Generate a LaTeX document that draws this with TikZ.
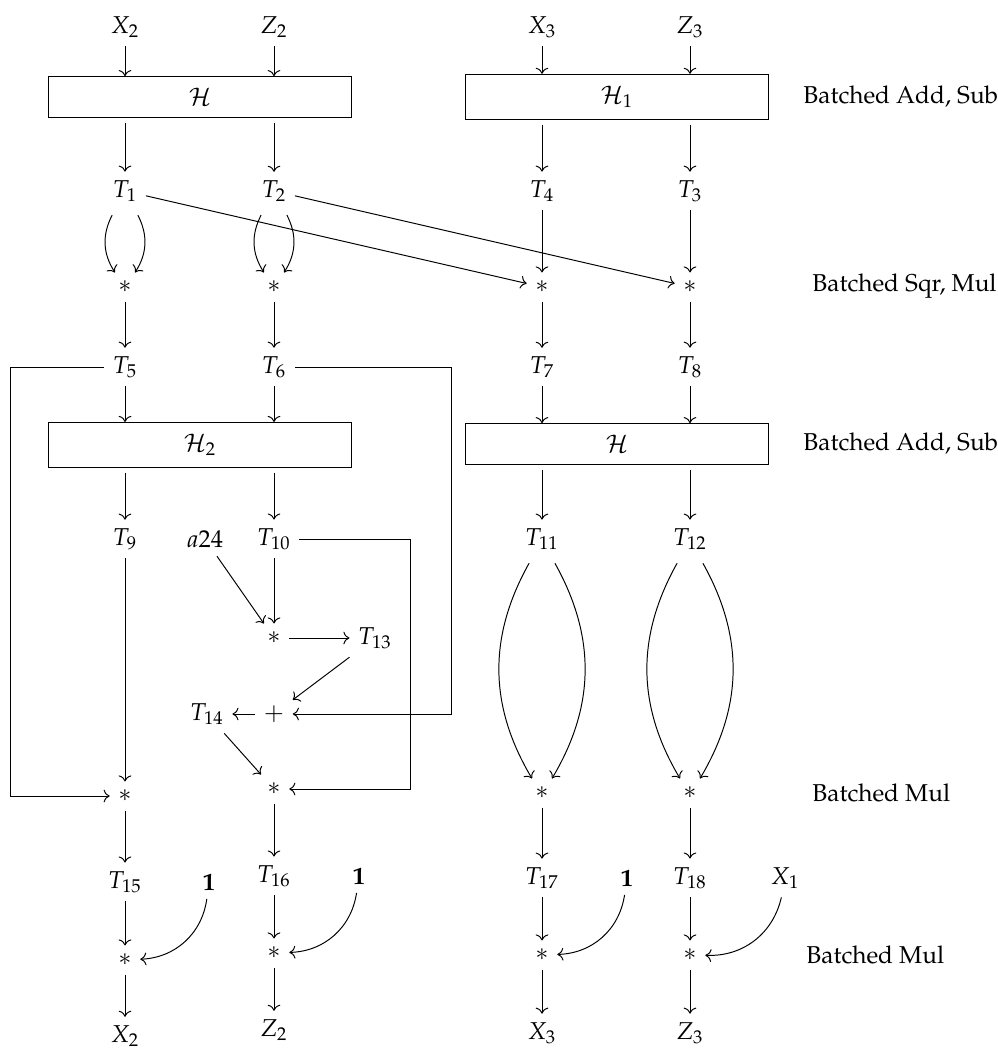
\documentclass[tikz,border=0pt]{standalone}
\usepackage[T1]{fontenc}
\usepackage{mathpazo}
\usepackage{amsmath,amssymb}
\usepackage{tikz}
\usetikzlibrary{arrows.meta, positioning}

\begin{document}
\begin{tikzpicture}[x=0.41pt, y=-0.41pt,
    arr/.style={->},
    opbox/.style={draw, minimum width=124pt, inner sep=4.8pt},
    lbl/.style={anchor=west, inner sep=0pt}]
    \useasboundingbox (0,0) rectangle (998,1055);
    % 输入
    \node (X2) at (125,27) {$X_2$};
    \node (Z2) at (274,27) {$Z_2$};
    \node (X3) at (542,27) {$X_3$};
    \node (Z3) at (690,27) {$Z_3$};
    \node [opbox] (H) at (200,97) {$\mathcal{H}$};
    \node [opbox] (H1) at (617,97) {$\mathcal{H}_1$};
    \node (T1) at (125,191) {$T_1$};
    \node (T2) at (274,191) {$T_2$};
    \node (T4) at (542,191) {$T_4$};
    \node (T3) at (690,191) {$T_3$};
    \node (s1) at (125,287) {$\ast$};
    \node (s2) at (274,287) {$\ast$};
    \node (s3) at (542,287) {$\ast$};
    \node (s4) at (690,287) {$\ast$};
    \node (T5) at (125,367) {$T_5$};
    \node (T6) at (274,367) {$T_6$};
    \node (T7) at (542,367) {$T_7$};
    \node (T8) at (690,367) {$T_8$};
    \node [opbox] (H2) at (200,445) {$\mathcal{H}_2$};
    \node [opbox] (H3) at (617,444) {$\mathcal{H}$};
    \node (T9) at (125,539) {$T_9$};
    \node (T10) at (274,539) {$T_{10}$};
    \node (T11) at (542,539) {$T_{11}$};
    \node (T12) at (690,539) {$T_{12}$};
    \node [on grid, left=28.3pt of T10] (a24) {$a24$};
    % 中间的乘加
    \node (m1) at (274,638) {$\ast$};
    \node [on grid, right=41.4pt of m1] (T13) {$T_{13}$};
    \node (plus) at (274,714) {$+$};
    \node [on grid, left=27.5pt of plus] (T14) {$T_{14}$};
    \node (m2) at (125,796) {$\ast$};
    \node (m3) at (274,789) {$\ast$};
    \node (m4) at (542,793) {$\ast$};
    \node (m5) at (690,793) {$\ast$};
    \node (T15) at (125,882) {$T_{15}$};
    \node (T16) at (274,876) {$T_{16}$};
    \node (T17) at (542,878) {$T_{17}$};
    \node (T18) at (690,878) {$T_{18}$};
    \node [on grid, right=34.4pt of T15] (one1) {$\mathbf{1}$};
    \node [on grid, right=34.8pt of T16] (one2) {$\mathbf{1}$};
    \node [on grid, right=34.8pt of T17] (one3) {$\mathbf{1}$};
    \node [on grid, right=39pt of T18] (X1) {$X_1$};
    \node (n1) at (125,960) {$\ast$};
    \node (n2) at (274,953) {$\ast$};
    \node (n3) at (542,955) {$\ast$};
    \node (n4) at (690,955) {$\ast$};
    % 输出
    \node (X2o) at (125,1036) {$X_2$};
    \node (Z2o) at (274,1030) {$Z_2$};
    \node (X3o) at (542,1033) {$X_3$};
    \node (Z3o) at (690,1033) {$Z_3$};
    % 右侧说明
    \node [lbl] (lab1) at (803,97) {Batched Add, Sub};
    \node [lbl] (lab2) at (812,286) {Batched Sqr, Mul};
    \node [lbl] (lab3) at (803,444) {Batched Add, Sub};
    \node [lbl] (lab4) at (812,793) {Batched Mul};
    \node [lbl] (lab5) at (806,955) {Batched Mul};
    % 回路拐点
    \coordinate (cL) at (10,367);
    \coordinate (cR) at (451,367);
    \coordinate (cT) at (410,539);

    \draw [arr] (X2) -- (X2 |- H.north);
    \draw [arr] (Z2) -- (Z2 |- H.north);
    \draw [arr] (X3) -- (X3 |- H1.north);
    \draw [arr] (Z3) -- (Z3 |- H1.north);
    \draw [arr, shorten <=2pt] (H.south -| T1) -- (T1);
    \draw [arr, shorten <=2pt] (H.south -| T2) -- (T2);
    \draw [arr, shorten <=2pt] (H1.south -| T4) -- (T4);
    \draw [arr, shorten <=2pt] (H1.south -| T3) -- (T3);
    % 平方: 两条弯箭头
    \draw [arr] ([xshift=-5.3pt, yshift=-2pt]T1.south) to[bend right=30] ([xshift=-4.1pt]s1.north);
    \draw [arr] ([xshift=5.3pt, yshift=-2pt]T1.south) to[bend left=30] ([xshift=4.1pt]s1.north);
    \draw [arr] ([xshift=-5.3pt, yshift=-2pt]T2.south) to[bend right=30] ([xshift=-4.1pt]s2.north);
    \draw [arr] ([xshift=5.3pt, yshift=-2pt]T2.south) to[bend left=30] ([xshift=4.1pt]s2.north);
    \draw [arr] (T1) -- (s3);
    \draw [arr] (T2) -- (s4);
    \draw [arr] (T4) -- (s3);
    \draw [arr] (T3) -- (s4);
    \draw [arr] (s1) -- (T5);
    \draw [arr] (s2) -- (T6);
    \draw [arr] (s3) -- (T7);
    \draw [arr] (s4) -- (T8);
    \draw [arr] (T5) -- (T5 |- H2.north);
    \draw [arr] (T6) -- (T6 |- H2.north);
    \draw [arr] (T7) -- (T7 |- H3.north);
    \draw [arr] (T8) -- (T8 |- H3.north);
    \draw [arr, shorten <=2pt] (H2.south -| T9) -- (T9);
    \draw [arr, shorten <=2pt] (H2.south -| T10) -- (T10);
    \draw [arr, shorten <=2pt] (H3.south -| T11) -- (T11);
    \draw [arr, shorten <=2pt] (H3.south -| T12) -- (T12);
    % 左半部分
    \draw [arr] (T9) -- (m2);
    \draw [arr] (a24) -- (m1);
    \draw [arr] (T10) -- (m1);
    \draw [arr] (m1) -- (T13);
    \draw [arr] (T13) -- (plus);
    \draw [arr] (plus) -- (T14);
    \draw [arr] (T14) -- (m3);
    \draw [arr] (T5) -- (cL) |- (m2);
    \draw [arr] (T6) -- (cR) |- (plus);
    \draw [arr] (T10) -- (cT) |- (m3);
    % 右半部分: 大弯箭头
    \draw [arr] ([xshift=-5.3pt, yshift=-2pt]T11.south) to[bend right=30] ([xshift=-4.1pt]m4.north);
    \draw [arr] ([xshift=5.3pt, yshift=-2pt]T11.south) to[bend left=30] ([xshift=4.1pt]m4.north);
    \draw [arr] ([xshift=-5.3pt, yshift=-2pt]T12.south) to[bend right=30] ([xshift=-4.1pt]m5.north);
    \draw [arr] ([xshift=5.3pt, yshift=-2pt]T12.south) to[bend left=30] ([xshift=4.1pt]m5.north);
    \draw [arr] (m2) -- (T15);
    \draw [arr] (m3) -- (T16);
    \draw [arr] (m4) -- (T17);
    \draw [arr] (m5) -- (T18);
    \draw [arr] (T15) -- (n1);
    \draw [arr] (T16) -- (n2);
    \draw [arr] (T17) -- (n3);
    \draw [arr] (T18) -- (n4);
    \draw [arr] (one1) to[bend left=40] (n1);
    \draw [arr] (one2) to[bend left=40] (n2);
    \draw [arr] (one3) to[bend left=40] (n3);
    \draw [arr] (X1) to[bend left=40] (n4);
    \draw [arr] (n1) -- (X2o);
    \draw [arr] (n2) -- (Z2o);
    \draw [arr] (n3) -- (X3o);
    \draw [arr] (n4) -- (Z3o);
\end{tikzpicture}
\end{document}
